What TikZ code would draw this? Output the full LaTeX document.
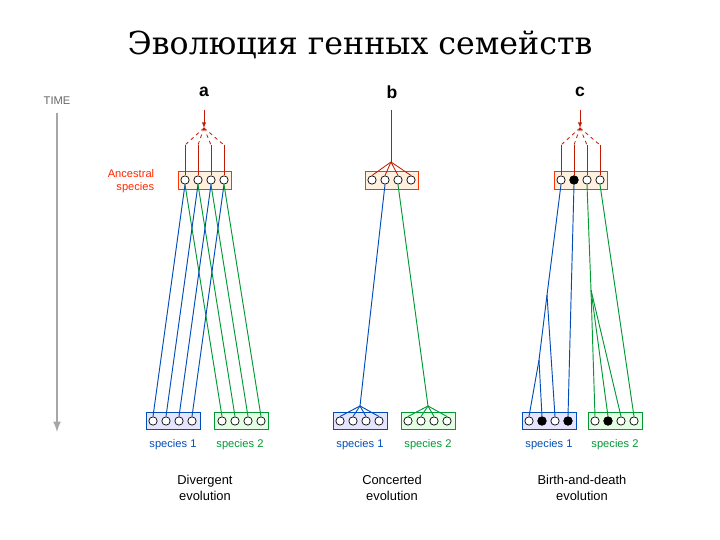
\documentclass[tikz,border=0pt]{standalone}
\usepackage{fontspec}
\setmainfont{Liberation Sans}
\newfontfamily\titlefont{DejaVu Serif}
\usetikzlibrary{calc}
\begin{document}
\begin{tikzpicture}[x=0.03cm,y=-0.03cm,
  redc/.style={draw=red!70!black!80!orange, line width=0.7pt},
  bluec/.style={draw=blue!60!black!70!cyan, line width=0.8pt},
  greenc/.style={draw=green!50!black!80!cyan, line width=0.8pt},
  dashr/.style={redc, dashed},
  anc/.style={draw=red!60!orange, fill=orange!12, line width=0.7pt, minimum width=1.59cm, minimum height=0.54cm},
  sp1/.style={draw=blue!60!black!70!cyan, fill=blue!10, line width=0.7pt, minimum width=1.62cm, minimum height=0.51cm},
  sp2/.style={draw=green!50!black!80!cyan, fill=green!10, line width=0.7pt, minimum width=1.62cm, minimum height=0.51cm},
  gene/.style={circle, draw=black, fill=white, line width=0.6pt, minimum size=0.25cm, inner sep=0pt},
  filled/.style={gene, fill=black},
  lab/.style={font=\fontsize{9.5}{11}\selectfont},
  captxt/.style={font=\fontsize{11}{13}\selectfont, align=center},
  head/.style={font=\fontsize{15}{17}\selectfont\bfseries}]
\useasboundingbox (0,0) rectangle (720,540);
\node (title) at (360,45) {\titlefont\fontsize{27}{30}\selectfont Эволюция генных семейств};
\node[lab, text=gray!80!black] (time) at (57,101) {TIME};
\coordinate (t1) at (57,113); \coordinate (t2) at (57,432);
\draw[gray!70, line width=2pt, -{latex}] (t1) -- (t2);
\node[head] (la) at (204,92) {a};
\node[head] (lb) at (392,92) {b};
\node[head] (lc) at (580,92) {c};
\node[lab, text=red!70!orange, align=right] (ancl) at (131,181) {Ancestral\\species};
% boxes
\node[anc] (ba) at (204.5,180) {};
\node[anc] (bb) at (391.5,180) {};
\node[anc] (bc) at (580.5,180) {};
\node[sp1] (ba1) at (173,421) {}; \node[sp2] (ba2) at (241,421) {};
\node[sp1] (bb1) at (360,421) {}; \node[sp2] (bb2) at (428,421) {};
\node[sp1] (bc1) at (549,421) {}; \node[sp2] (bc2) at (615,421) {};
% genes
\foreach \p/\x in {a/185,b/372,c/561}{
  \foreach \i in {1,...,4}{ \node[gene] (\p\i) at ({\x+(\i-1)*13},180) {}; } }
\node[filled] at (c2) {};
\foreach \p/\x in {a/153,b/340,c/529}{
  \foreach \i in {1,...,4}{ \node[gene] (\p L\i) at ({\x+(\i-1)*13},421) {}; } }
\foreach \p/\x in {a/222,b/408,c/595}{
  \foreach \i in {1,...,4}{ \node[gene] (\p R\i) at ({\x+(\i-1)*13},421) {}; } }
\node[filled] at (cL2) {}; \node[filled] at (cL4) {}; \node[filled] at (cR2) {};
% red ancestry a, c
\foreach \p/\x in {a/204,c/580}{
  \coordinate (\p top) at (\x,110); \coordinate (\p hub) at (\x,128);
  \draw[redc, -{latex}] (\p top) -- (\p hub);
  \foreach \i in {1,...,4}{
    \coordinate (\p k\i) at ($(\p\i)+(0,-35)$);
    \draw[dashr] (\p hub) -- (\p k\i);
    \draw[redc] (\p k\i) -- (\p\i.north);
  } }
% red b
\coordinate (btop) at (391,110); \coordinate (bhub) at (391,162);
\draw[redc] (btop) -- (bhub);
\foreach \i in {1,...,4}{ \draw[redc] (bhub) -- (b\i.north); }
% panel a
\foreach \i in {1,...,4}{
  \draw[bluec] (a\i.south) -- (aL\i.north);
  \draw[greenc] (a\i.south) -- (aR\i.north); }
% panel b
\coordinate (bbh) at (360,406); \coordinate (bgh) at (428,406);
\draw[bluec] (b2.south) -- (bbh);
\draw[greenc] (b3.south) -- (bgh);
\foreach \i in {1,...,4}{ \draw[bluec] (bbh) -- (bL\i.north); \draw[greenc] (bgh) -- (bR\i.north); }
% panel c
\coordinate (cb1) at (547,295); \coordinate (cb2) at (539,360); \coordinate (cg1) at (591,290);
\draw[bluec] (c1.south) -- (cb1) -- (cb2) -- (cL1.north);
\draw[bluec] (cb2) -- (cL2.north);
\draw[bluec] (cb1) -- (cL3.north);
\draw[bluec] (c2.south) -- (cL4.north);
\draw[greenc] (c3.south) -- (cg1) -- (cR1.north);
\draw[greenc] (cg1) -- (cR2.north);
\draw[greenc] (cg1) -- (cR3.north);
\draw[greenc] (c4.south) -- (cR4.north);
% species labels
\foreach \p/\xa/\xb in {a/173/240,b/360/428,c/549/615}{
  \node[lab, text=blue!60!black!70!cyan] (s1\p) at (\xa,445) {species 1};
  \node[lab, text=green!50!black!80!cyan] (s2\p) at (\xb,445) {species 2}; }
\node[captxt] (ca) at (205,488) {Divergent\\evolution};
\node[captxt] (cbb) at (392,488) {Concerted\\evolution};
\node[captxt] (ccc) at (582,488) {Birth-and-death\\evolution};
\end{tikzpicture}
\end{document}
